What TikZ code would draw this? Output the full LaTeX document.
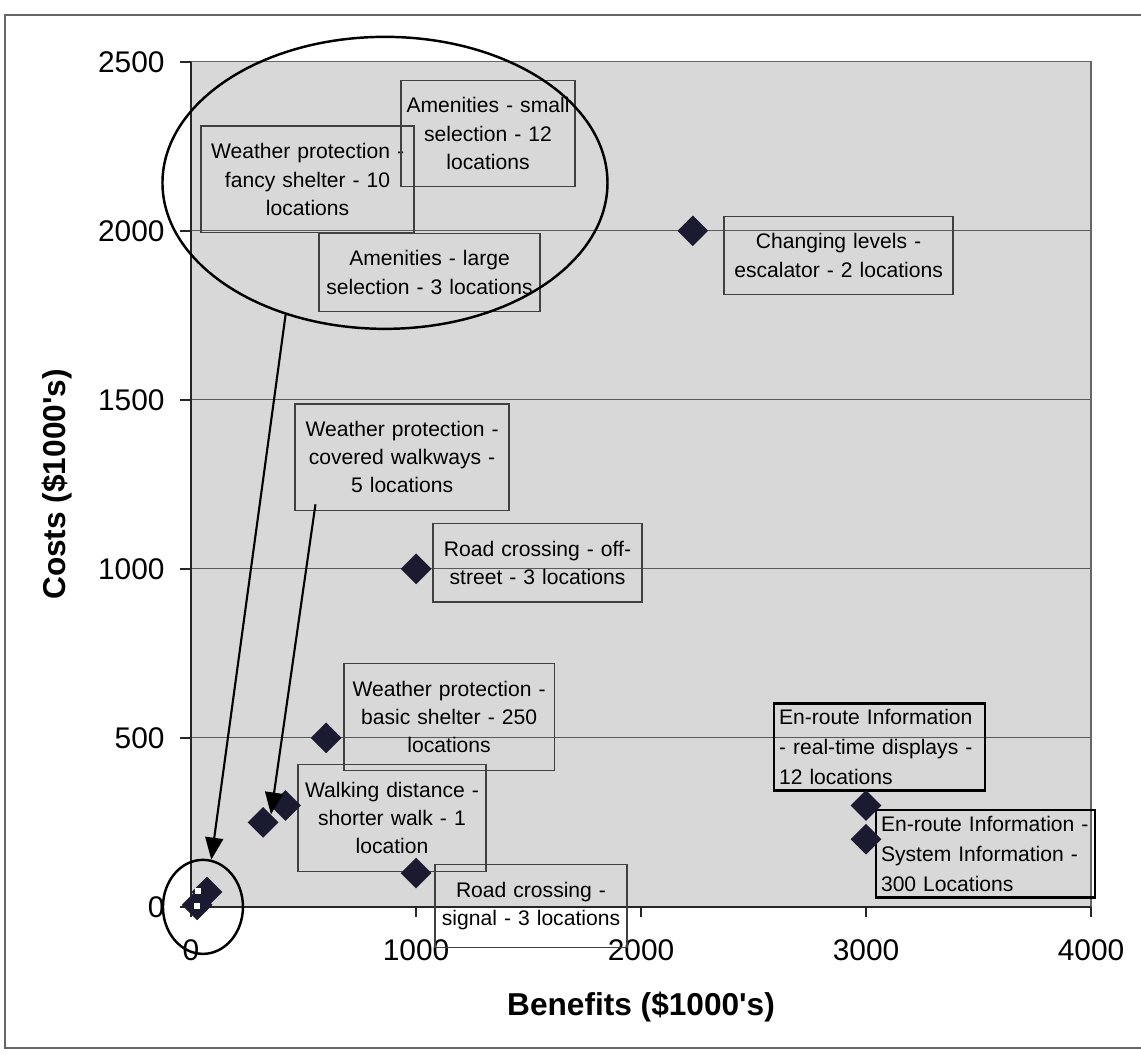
\documentclass[tikz,border=0pt]{standalone}
\usepackage{fontspec}
\setmainfont{Liberation Sans}
\usetikzlibrary{shapes.geometric,arrows.meta}

\definecolor{plotbg}{RGB}{216,216,216}
\definecolor{marknavy}{RGB}{26,26,48}

\tikzset{
  lbl/.style={draw=black!75, line width=0.7pt, align=center, inner xsep=0.1cm, inner ysep=0.35cm, font=\fontsize{12}{16}\selectfont},
  lblbold/.style={lbl, draw=black, line width=1.4pt, align=left, inner ysep=0.12cm, font=\fontsize{12}{17}\selectfont},
  pt/.style={diamond, fill=marknavy, inner sep=0pt, minimum size=0.62cm},
  ring/.style={ellipse, draw=black, line width=1.4pt, inner sep=0pt},
  callout/.style={line width=1.2pt, -{Triangle[length=0.44cm,width=0.36cm]}},
  ticklbl/.style={font=\fontsize{17}{20}\selectfont, inner sep=0pt},
  axtitle/.style={font=\fontsize{18}{21}\selectfont\bfseries, inner sep=0pt},
}

\begin{document}
\begin{tikzpicture}[x=4.5cm,y=6.76cm]
  \useasboundingbox (-0.849,-0.438) rectangle (4.222,2.683);
  % frame of the page
  \draw[black!60, line width=0.8pt] (4.3,2.639) -- (-0.827,2.639) -- (-0.827,-0.417) -- (4.3,-0.417);
  % plot area and grid
  \fill[plotbg] (0,0) rectangle (4,2.5);
  \foreach \c in {0.5,1.0,1.5,2.0}
    \draw[black!65, line width=0.6pt] (0,\c) -- (4,\c);
  \draw[black!60, line width=0.7pt] (0,2.5) -- (4,2.5) -- (4,0);
  \draw[black!85, line width=0.8pt] (0,2.5) -- (0,0) -- (4,0);
  \foreach \c/\t in {0/0,0.5/500,1.0/1000,1.5/1500,2.0/2000,2.5/2500} {
    \draw[black!85, line width=0.8pt] (-0.05,\c) -- (0,\c);
    \node[ticklbl, anchor=east] (ty\t) at (-0.116,\c) {\t};
  }
  \foreach \b/\t in {0/0,1/1000,2/2000,3/3000,4/4000} {
    \draw[black!85, line width=0.8pt] (\b,0) -- (\b,-0.03);
    \node[ticklbl] (tx\t) at (\b,-0.127) {\t};
  }
  \node[axtitle] (xlab) at (2,-0.296) {Benefits (\$1000\textquotesingle s)};
  \node[axtitle, rotate=90] (ylab) at (-0.596,1.25) {Costs (\$1000\textquotesingle s)};

  % labels
  \node[lbl, text width=4.06cm] (wfancy) at (0.518,2.152) {Weather protection -\\fancy shelter - 10\\locations};
  \node[lbl, text width=3.28cm] (amsmall) at (1.320,2.288) {Amenities - small\\selection - 12\\locations};
  \node[lbl, text width=4.22cm] (amlarge) at (1.060,1.877) {Amenities - large\\selection - 3 locations};
  \node[lbl, text width=4.38cm] (lvesc) at (2.878,1.927) {Changing levels -\\escalator - 2 locations};
  \node[lbl, text width=4.08cm] (wcov) at (0.938,1.330) {Weather protection -\\covered walkways -\\5 locations};
  \node[lbl, text width=3.98cm] (rdoff) at (1.540,1.018) {Road crossing - off-\\street - 3 locations};
  \node[lbl, text width=4.00cm] (wbasic) at (1.147,0.562) {Weather protection -\\basic shelter - 250\\locations};
  \node[lbl, text width=3.56cm] (walkd) at (0.893,0.263) {Walking distance -\\shorter walk - 1\\location};
  \node[lbl, text width=3.64cm] (rdsig) at (1.511,0.003) {Road crossing -\\signal - 3 locations};
  \node[lblbold, text width=4.02cm] (enreal) at (3.060,0.473) {En-route Information\\- real-time displays -\\12 locations};
  \node[lblbold, text width=4.18cm] (ensys) at (3.531,0.157) {En-route Information -\\System Information -\\300 Locations};

  % data points
  \node[pt] (pesc) at (2.23,2.0) {};
  \node[pt] (poff) at (1.0,1.0) {};
  \node[pt] (pbas) at (0.6,0.5) {};
  \node[pt] (pwalk) at (0.42,0.3) {};
  \node[pt] (pcov) at (0.32,0.25) {};
  \node[pt] (psig) at (1.0,0.1) {};
  \node[pt] (preal) at (3.0,0.3) {};
  \node[pt] (psys) at (3.0,0.2) {};
  \node[pt] (porA) at (0.071,0.044) {};
  \node[pt] (porB) at (0.027,0.006) {};
  \node[fill=white, inner sep=0pt, minimum size=0.12cm] (gapA) at (0.031,0.047) {};
  \node[fill=white, inner sep=0pt, minimum size=0.12cm] (gapB) at (0.027,0.003) {};

  % rings and arrows
  \node[ring, minimum width=8.9cm, minimum height=5.84cm] (bigring) at (0.862,2.142) {};
  \node[ring, minimum width=1.6cm, minimum height=1.88cm] (orgring) at (0.053,0) {};
  \draw[callout] (bigring.233) -- (orgring.80);
  \draw[callout] ([xshift=0.42cm,yshift=0.14cm]wcov.south west) -- (pcov.north east);
\end{tikzpicture}
\end{document}
